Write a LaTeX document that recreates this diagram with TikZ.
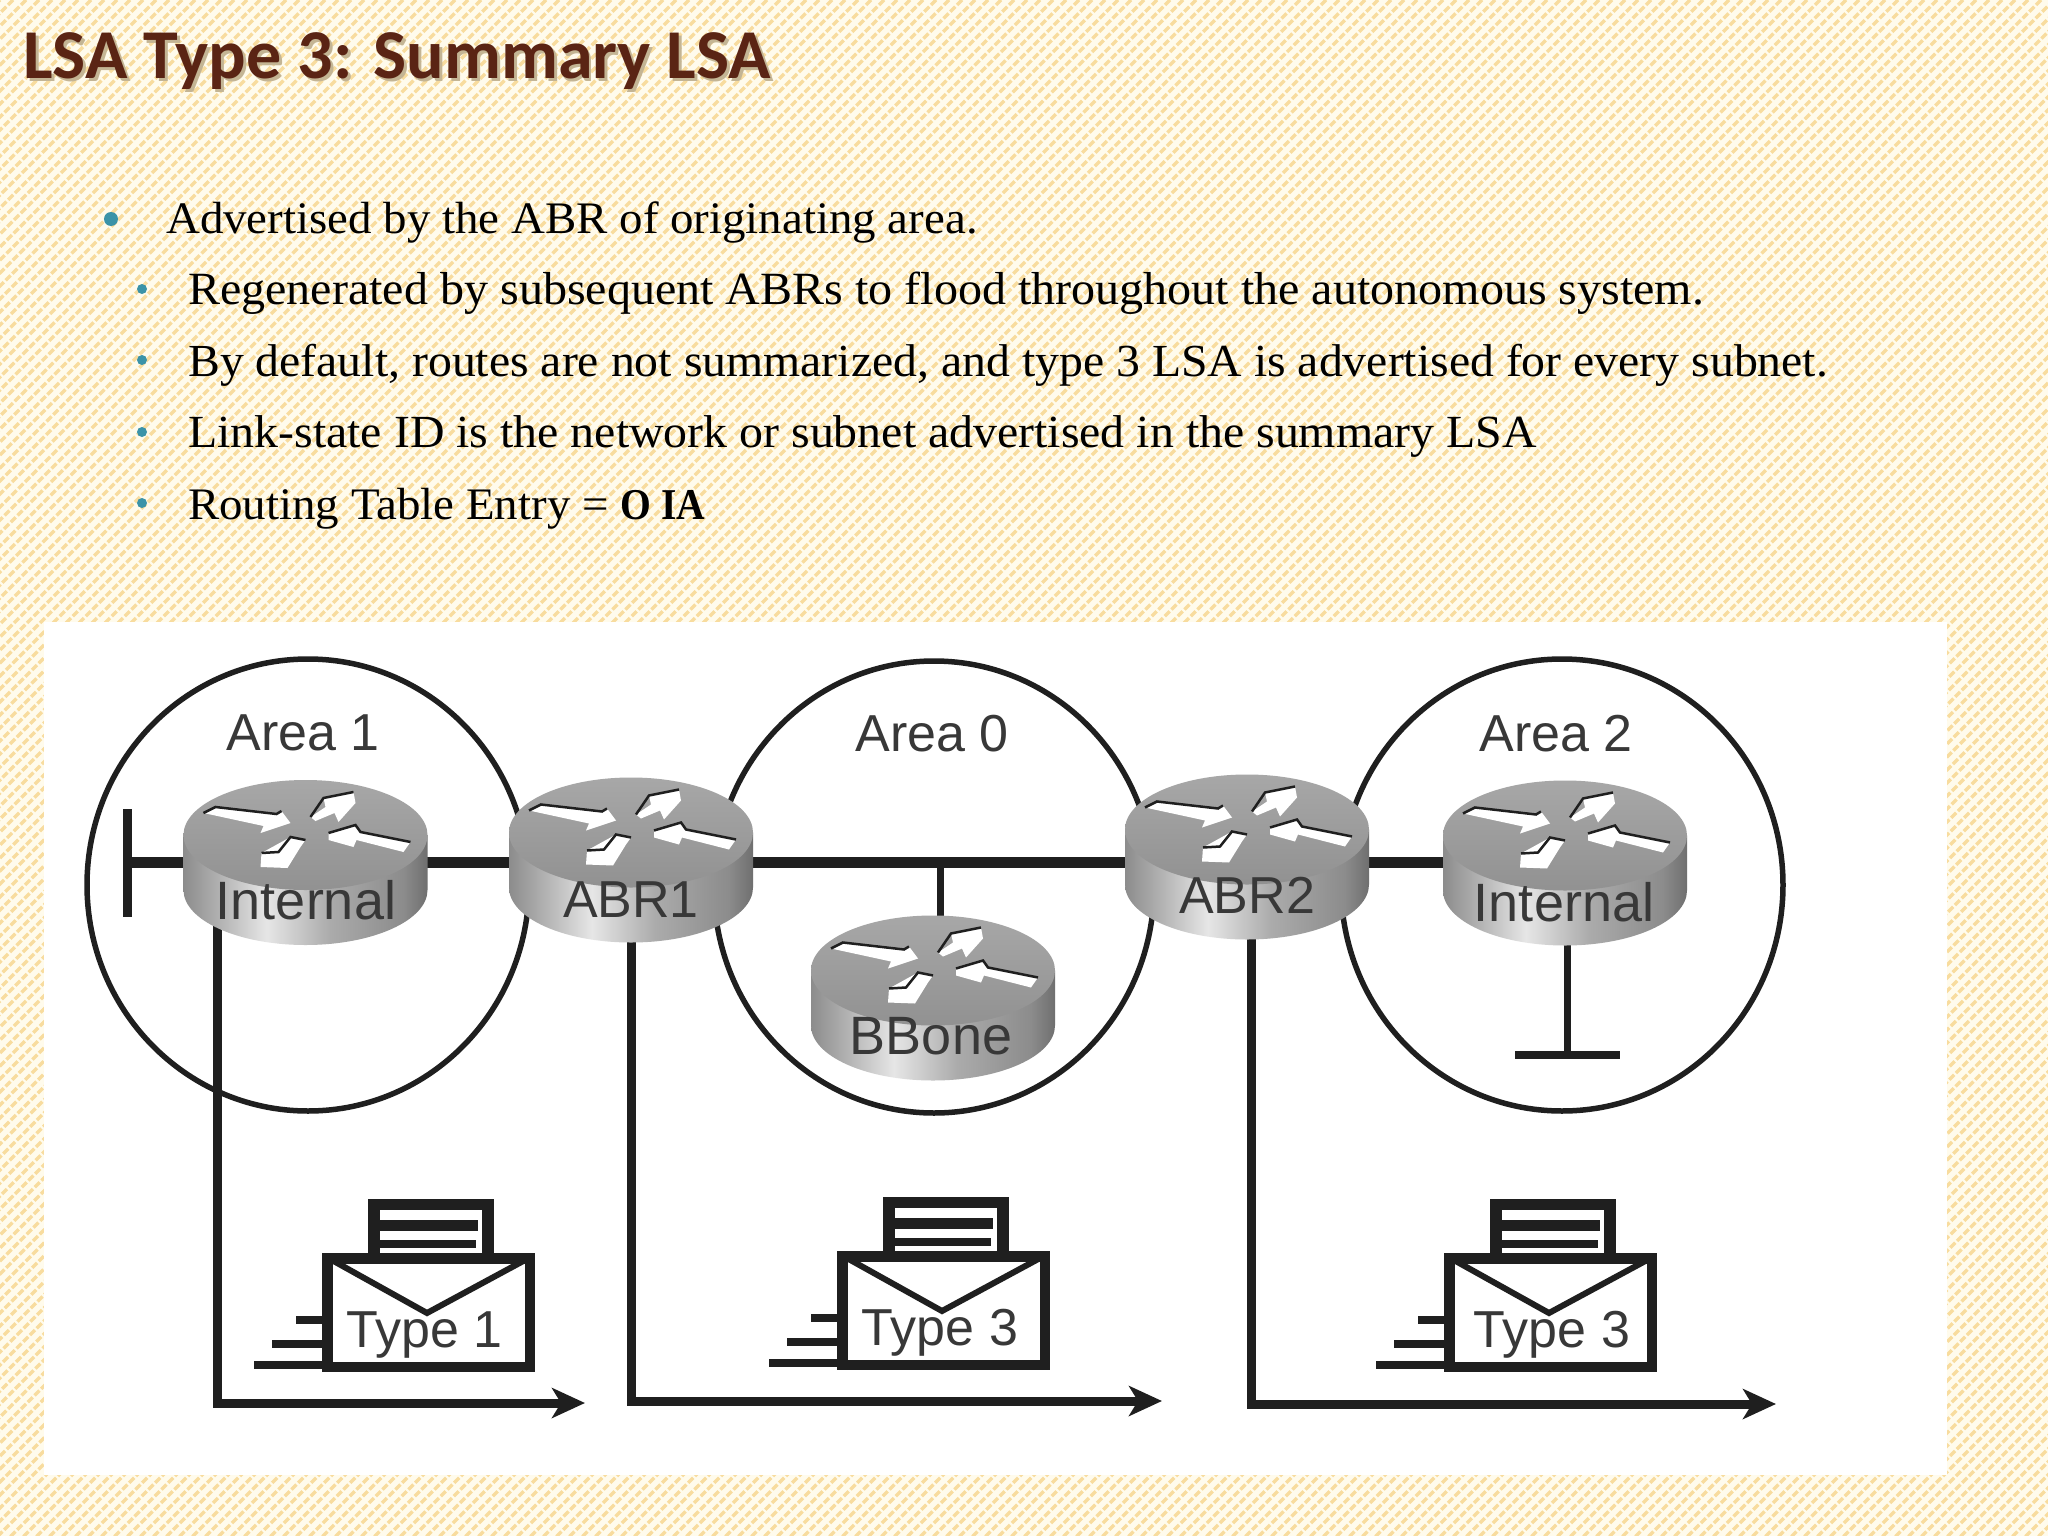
\documentclass[tikz,border=0pt]{standalone}
\usepackage{fontspec}
\setmainfont[FakeStretch=1.04]{Liberation Serif}
\newfontfamily\titlefont{Carlito}
\newfontfamily\figfont{Liberation Sans}
\newfontfamily\boldnarrow[FakeStretch=0.9]{Liberation Serif}
\usetikzlibrary{arrows.meta,calc}
\definecolor{bgbase}{HTML}{FFFBEC}
\definecolor{bgweave}{HTML}{F8DC9E}
\definecolor{titlecol}{HTML}{5A2414}
\definecolor{titleshadow}{HTML}{C4B594}
\definecolor{bulletcol}{HTML}{3B93A8}
\definecolor{figink}{HTML}{1F1F1F}
\definecolor{figtext}{HTML}{383838}
\definecolor{sA}{HTML}{8C8C8C}
\definecolor{sB}{HTML}{B0B0B0}
\definecolor{sC}{HTML}{E6E6E6}
\definecolor{sD}{HTML}{ABABAB}
\definecolor{sE}{HTML}{6F6F6F}
\pgfdeclarehorizontalshading{routerside}{100bp}{color(0bp)=(sA);color(25bp)=(sA);color(32bp)=(sB);color(42bp)=(sC);color(55bp)=(sD);color(70bp)=(sA);color(75bp)=(sE);color(100bp)=(sE)}
\newcommand\fs[1]{\fontsize{#1}{#1}\selectfont}
\tikzset{
  bodytext/.style={anchor=base west,inner sep=0pt},
  figlabel/.style={anchor=base,inner sep=0pt,text=figtext,font=\figfont\fs{52}},
  area/.style={draw=figink,line width=5.5pt},
  link/.style={draw=figink,line width=11pt},
  lsaline/.style={draw=figink,line width=9pt,-{Stealth[length=33pt,width=30pt,inset=9pt]}},
  envbox/.style={draw=figink,line width=10.5pt,fill=white,line join=miter},
  routerbox/.style={minimum width=244pt,minimum height=166pt,inner sep=0pt},
  arrowedge/.style={draw=figink,line width=2.5pt},
}
\newcommand\routerart[2]{%
  \begin{scope}[shift={(#1,#2)}]
    \path[shade,shading=routerside] (-122,-27.5) -- (-122,27.5) arc[start angle=180,end angle=360,x radius=122pt,y radius=55pt] -- (122,-27.5) -- cycle;
    \path[top color=sB!95!black,bottom color=sD!85!black] (0,-27.5) ellipse[x radius=122pt,y radius=55pt];
    \begin{scope}[shift={(0,-27.5)}]
      \fill[white] (-102,-22) -- (-90,-28) -- (-29,-21) -- (-24,-24) -- (-15,-12) -- (-45,-2) -- (-42,-9) -- cycle;
      \draw[arrowedge] (-102,-22) -- (-90,-28) -- (-29,-21) -- (-24,-24);
      \fill[white] (5,-18) -- (20,-28) -- (18,-37) -- (48,-43) -- (50,-32) -- (33,-13) -- (29,-22) -- (10,-14) -- cycle;
      \draw[arrowedge] (5,-18) -- (18,-37) -- (48,-43);
      \fill[white] (23,-2) -- (50,-10) -- (55,-3) -- (105,7) -- (98,17) -- (51,5) -- (48,12) -- (23,5) -- cycle;
      \draw[arrowedge] (23,-2) -- (50,-10) -- (55,-3) -- (105,7);
      \fill[white] (0,5) -- (-15,2) -- (-44,18) -- (-45,32) -- (-18,33) -- (-5,12) -- cycle;
      \draw[arrowedge] (-44,18) -- (-27,17) -- (-15,2) -- (0,5);
    \end{scope}
  \end{scope}}
\newcommand\lsaat[3]{% name, left x, top y
  \node[minimum width=213pt,minimum height=119pt,inner sep=0pt,anchor=north west] (#1) at (#2,#3) {};
  \begin{scope}[shift={(#2,#3)}]
    \draw[figink,line width=11.5pt,fill=white,line join=miter] (52,4) -- (52,-48.5) -- (166,-48.5) -- (166,4);
    \draw[figink,line width=11pt] (58,-28) -- (156,-28);
    \draw[figink,line width=8pt] (58,-9) -- (154,-9);
    \draw[figink,line width=8pt] (-26,67) -- (0,67);
    \draw[figink,line width=8pt] (-50,91) -- (0,91);
    \draw[figink,line width=8pt] (-68,112) -- (0,112);
    \draw[envbox] (5.25,5.25) rectangle (207.75,113.75);
    \draw[figink,line width=6pt] (8,6) -- (105,60) -- (205,6);
  \end{scope}}
\begin{document}
\begin{tikzpicture}[x=1pt,y=-1pt]
\useasboundingbox (0,0) rectangle (2048,1536);
\fill[bgbase] (0,0) rectangle (2048,1536);
\begin{scope}
  \clip (0,0) rectangle (2048,1536);
  \foreach \k in {0,13,...,3600} {
    \draw[bgweave,line width=3.4pt,dash pattern=on 7pt off 2.5pt] (\k,0) -- ++(-1560,1560);
  }
\end{scope}
% title
\node[anchor=base west,inner sep=0pt,text=titleshadow,font=\titlefont\bfseries\fs{70}] (titleshade) at (26,82) {LSA Type 3: Summary LSA};
\node[anchor=base west,inner sep=0pt,text=titlecol,font=\titlefont\bfseries\fs{70}] (title) at (23,79) {LSA Type 3: Summary LSA};
% bullets
\fill[bulletcol] (111,219) circle (7pt);
\foreach \yy in {289,360,432,503} \fill[bulletcol] (142,\yy) circle (5pt);
\node[bodytext,font=\fs{45.1}] (l1) at (166,233) {Advertised by the ABR of originating area.};
\node[bodytext,font=\fs{46.2}] (l2) at (188,304) {Regenerated by subsequent ABRs to flood throughout the autonomous system.};
\node[bodytext,font=\fs{45.9}] (l3) at (188,376) {By default, routes are not summarized, and type 3 LSA is advertised for every subnet.};
\node[bodytext,font=\fs{46}] (l4) at (188,447) {Link-state ID is the network or subnet advertised in the summary LSA};
\node[bodytext,font=\fs{45.1}] (l5) at (188,519) {Routing Table Entry = {\boldnarrow\fs{44}\bfseries O IA}};
% figure panel
\fill[white] (44,622) rectangle (1947,1475);
\draw[area] (308,885) ellipse[x radius=221pt,y radius=226pt];
\draw[area] (934,887) ellipse[x radius=220pt,y radius=226pt];
\draw[area] (1562,885) ellipse[x radius=221pt,y radius=226pt];
% routers as named boxes
\node[routerbox] (int1) at (305.5,862.5) {};
\node[routerbox] (abr1) at (631,860) {};
\node[routerbox] (abr2) at (1247,857) {};
\node[routerbox] (int2) at (1565,863) {};
\node[routerbox] (bbone) at (933,998) {};
\coordinate (stubL) at (127,862.5);
\coordinate (stubLtop) at (127,809);
\coordinate (stubLbot) at (127,917);
\coordinate (stubBL) at (1515,1055);
\coordinate (stubBR) at (1620,1055);
\coordinate (stubB) at (1567,1055);
\coordinate (end1) at (585,1403);
\coordinate (end2) at (1162,1401);
\coordinate (end3) at (1776,1404);
% connectors
\draw[link] (int1.center) -- (stubL);
\draw[link,line width=9pt] (stubLtop) -- (stubLbot);
\draw[link] (int1.center) -- (abr1.center |- int1.center);
\draw[link] (abr1.center |- int1.center) -- (abr2.center |- int1.center);
\draw[link] (abr2.center |- int1.center) -- (int2.center |- int1.center);
\draw[link,line width=7pt] ([xshift=7pt]bbone.center |- int1.center) -- ([xshift=7pt]bbone.center);
\draw[link,line width=7pt] (stubB |- int2.center) -- (stubB);
\draw[link,line width=8pt] (stubBL) -- (stubBR);
\draw[lsaline] ([xshift=-88.5pt]int1.center) |- (end1);
\draw[lsaline] (abr1.center) |- (end2);
\draw[lsaline] ([xshift=4pt]abr2.center) |- (end3);
% router drawings
\routerart{305.5}{862.5}
\routerart{631}{860}
\routerart{1247}{857}
\routerart{1565}{863}
\routerart{933}{998}
% labels
\node[figlabel] (t1) at (303,750) {Area 1};
\node[figlabel] (t2) at (932,751) {Area 0};
\node[figlabel] (t3) at (1556,751) {Area 2};
\node[figlabel,font=\figfont\fs{54}] (t4) at (306,919) {Internal};
\node[figlabel] (t5) at (631,917) {ABR1};
\node[figlabel] (t6) at (1247,913) {ABR2};
\node[figlabel,font=\figfont\fs{54}] (t7) at (1564,921) {Internal};
\node[figlabel,font=\figfont\fs{54}] (t8) at (931,1054) {BBone};
% LSA envelopes
\lsaat{env1}{322}{1253}
\lsaat{env2}{837}{1251}
\lsaat{env3}{1444}{1253}
\node[figlabel] (e1) at (424.5,1347) {Type 1};
\node[figlabel] (e2) at (940,1345) {Type 3};
\node[figlabel] (e3) at (1552,1347) {Type 3};
\end{tikzpicture}
\end{document}
